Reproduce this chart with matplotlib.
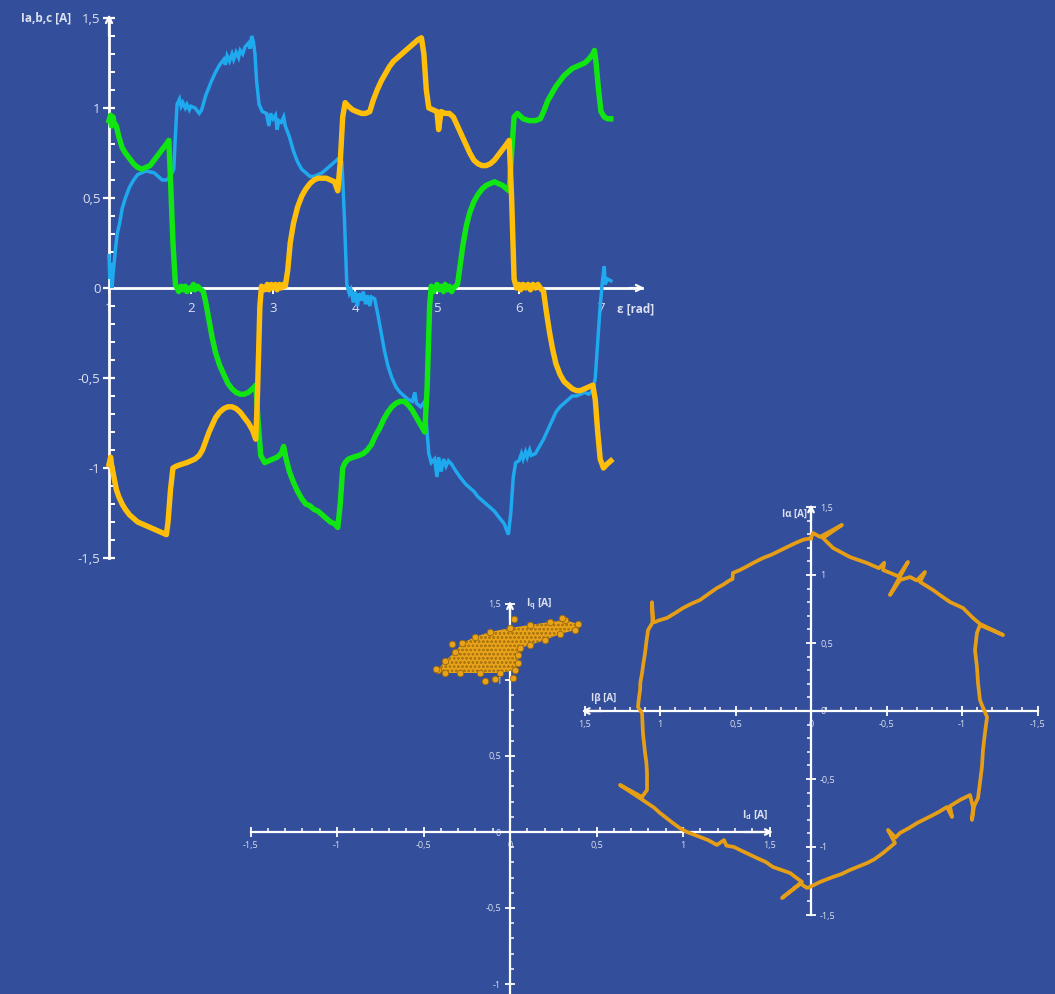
import matplotlib
matplotlib.use('Agg')
import matplotlib.pyplot as plt
from matplotlib.ticker import FixedLocator, MultipleLocator
from matplotlib.patches import Polygon

# ---------------------------------------------------------------- data
# phase currents vs electrical angle
eps_a = [1.00, 1.01, 1.02, 1.037, 1.05, 1.08, 1.10, 1.13, 1.16, 1.20, 1.25, 1.30, 1.35, 1.40, 1.45,
         1.50, 1.55, 1.60, 1.65, 1.70, 1.75, 1.79, 1.81, 1.83, 1.86, 1.88, 1.90, 1.93, 1.95, 1.98,
         2.00, 2.05, 2.10, 2.13, 2.18, 2.25, 2.30, 2.35, 2.40, 2.42, 2.44, 2.47, 2.50, 2.52,
         2.55, 2.58, 2.60, 2.63, 2.66, 2.70, 2.72, 2.74, 2.76, 2.78, 2.80, 2.83, 2.87, 2.92,
         2.95, 2.97, 3.00, 3.03, 3.05, 3.07, 3.10, 3.13, 3.15, 3.20, 3.25, 3.30, 3.35,
         3.40, 3.45, 3.50, 3.55, 3.60, 3.65, 3.70, 3.75, 3.80, 3.84, 3.87, 3.90, 3.93, 3.95,
         3.98, 4.00, 4.03, 4.05, 4.08, 4.10, 4.13, 4.15, 4.18, 4.20, 4.24, 4.28, 4.32, 4.36,
         4.40, 4.45, 4.50, 4.55, 4.60, 4.65, 4.70, 4.73, 4.75, 4.80, 4.85, 4.88, 4.90, 4.93,
         4.97, 5.00, 5.02, 5.05, 5.08, 5.11, 5.14, 5.18, 5.22, 5.28, 5.35, 5.40, 5.45, 5.50,
         5.55, 5.60, 5.65, 5.70, 5.75, 5.82, 5.87, 5.90, 5.93, 5.96, 6.00, 6.03, 6.05, 6.08,
         6.10, 6.13, 6.15, 6.20, 6.25, 6.30, 6.35, 6.40, 6.45, 6.50, 6.55, 6.60, 6.65, 6.70,
         6.75, 6.80, 6.85, 6.90, 6.93, 6.96, 6.99, 7.02, 7.04, 7.05, 7.08, 7.12]
i_a = [0.18, 0.05, 0.14, 0.00, 0.08, 0.22, 0.30, 0.36, 0.44, 0.50, 0.56, 0.60, 0.63, 0.64, 0.65,
       0.645, 0.64, 0.62, 0.60, 0.60, 0.62, 0.66, 0.85, 1.02, 1.05, 1.01, 1.03, 1.00, 1.02, 0.99,
       1.01, 1.00, 0.97, 0.99, 1.07, 1.15, 1.20, 1.24, 1.27, 1.24, 1.29, 1.26, 1.30, 1.27,
       1.31, 1.28, 1.32, 1.30, 1.34, 1.36, 1.33, 1.40, 1.37, 1.30, 1.15, 1.02, 0.98, 0.97,
       0.90, 0.97, 0.94, 0.96, 0.88, 0.93, 0.92, 0.95, 0.90, 0.84, 0.76, 0.70, 0.66,
       0.64, 0.62, 0.62, 0.63, 0.64, 0.66, 0.68, 0.70, 0.72, 0.70, 0.40, 0.02, -0.03, -0.01,
       -0.08, -0.02, -0.10, -0.03, -0.07, -0.02, -0.09, -0.04, -0.10, -0.05, -0.06, -0.15, -0.25, -0.35,
       -0.43, -0.50, -0.55, -0.58, -0.60, -0.62, -0.63, -0.58, -0.64, -0.66, -0.63, -0.80, -0.92, -0.97,
       -0.95, -1.05, -0.94, -1.02, -0.95, -0.99, -0.96, -0.98, -1.01, -1.05, -1.09, -1.11, -1.13, -1.16,
       -1.18, -1.20, -1.22, -1.24, -1.27, -1.31, -1.37, -1.25, -1.05, -0.97, -0.96, -0.92, -0.95, -0.91,
       -0.94, -0.90, -0.93, -0.92, -0.88, -0.84, -0.79, -0.74, -0.69, -0.66, -0.64, -0.62, -0.60, -0.60,
       -0.59, -0.58, -0.59, -0.57, -0.50, -0.30, -0.10, 0.05, 0.12, 0.02, 0.05, 0.04]

eps_b = [1.00, 1.02, 1.03, 1.05, 1.06, 1.09, 1.12, 1.16, 1.20, 1.25, 1.30, 1.35, 1.40, 1.45,
         1.50, 1.55, 1.60, 1.65, 1.70, 1.73, 1.75, 1.78, 1.81, 1.85, 1.88, 1.90, 1.93, 1.95,
         1.98, 2.00, 2.03, 2.05, 2.08, 2.10, 2.15, 2.18, 2.22, 2.26, 2.30, 2.35, 2.40, 2.45,
         2.50, 2.55, 2.60, 2.65, 2.70, 2.75, 2.79, 2.82, 2.85, 2.90, 2.95, 3.00, 3.05, 3.10,
         3.13, 3.16, 3.20, 3.25, 3.30, 3.35, 3.40, 3.45, 3.50, 3.55, 3.60, 3.65, 3.70, 3.75,
         3.79, 3.82, 3.85, 3.88, 3.92, 3.98, 4.05, 4.10, 4.15, 4.20, 4.25, 4.30, 4.35, 4.40,
         4.45, 4.50, 4.55, 4.60, 4.65, 4.70, 4.75, 4.80, 4.85, 4.88, 4.91, 4.93, 4.96, 5.00,
         5.03, 5.05, 5.08, 5.10, 5.13, 5.15, 5.18, 5.20, 5.25, 5.28, 5.32, 5.36, 5.40, 5.45,
         5.50, 5.55, 5.60, 5.65, 5.70, 5.75, 5.80, 5.85, 5.88, 5.91, 5.94, 5.98, 6.05, 6.12,
         6.20, 6.26, 6.30, 6.35, 6.40, 6.45, 6.50, 6.55, 6.60, 6.65, 6.70, 6.75, 6.80, 6.85,
         6.90, 6.92, 6.94, 6.97, 7.00, 7.04, 7.08, 7.12]
i_b = [0.93, 0.96, 0.90, 0.95, 0.92, 0.90, 0.84, 0.78, 0.75, 0.72, 0.69, 0.67, 0.66, 0.67,
       0.68, 0.71, 0.74, 0.77, 0.80, 0.82, 0.60, 0.25, 0.02, -0.02, 0.01, -0.01, 0.01, -0.02,
       0.00, -0.01, 0.02, -0.01, 0.01, 0.00, -0.02, -0.08, -0.18, -0.28, -0.36, -0.43, -0.48, -0.53,
       -0.56, -0.58, -0.59, -0.59, -0.58, -0.56, -0.54, -0.75, -0.93, -0.97, -0.96, -0.95, -0.94, -0.92,
       -0.88, -0.95, -1.02, -1.08, -1.13, -1.17, -1.20, -1.21, -1.23, -1.24, -1.26, -1.28, -1.30, -1.31,
       -1.33, -1.20, -1.00, -0.97, -0.95, -0.94, -0.93, -0.92, -0.90, -0.87, -0.82, -0.78, -0.73, -0.69,
       -0.66, -0.64, -0.63, -0.63, -0.65, -0.68, -0.72, -0.76, -0.80, -0.55, -0.10, 0.01, -0.02, 0.02,
       -0.01, 0.01, -0.02, 0.02, -0.01, 0.01, -0.02, 0.00, 0.02, 0.12, 0.25, 0.35, 0.42, 0.48,
       0.52, 0.55, 0.57, 0.58, 0.59, 0.58, 0.57, 0.55, 0.54, 0.75, 0.95, 0.97, 0.94, 0.93,
       0.93, 0.94, 0.98, 1.04, 1.08, 1.12, 1.15, 1.18, 1.20, 1.22, 1.23, 1.24, 1.25, 1.27,
       1.30, 1.32, 1.25, 1.10, 0.98, 0.95, 0.94, 0.94]

eps_c = [1.00, 1.02, 1.03, 1.06, 1.09, 1.12, 1.16, 1.20, 1.25, 1.30, 1.35, 1.40, 1.45, 1.50, 1.55,
         1.60, 1.65, 1.70, 1.72, 1.75, 1.78, 1.82, 1.88, 1.95, 2.00, 2.05, 2.10, 2.14, 2.18,
         2.22, 2.26, 2.30, 2.35, 2.40, 2.45, 2.50, 2.55, 2.60, 2.65, 2.70, 2.75, 2.79, 2.81,
         2.84, 2.86, 2.90, 2.93, 2.95, 2.98, 3.00, 3.03, 3.05, 3.08, 3.10, 3.13, 3.15, 3.18, 3.21,
         3.25, 3.30, 3.35, 3.40, 3.45, 3.50, 3.55, 3.60, 3.65, 3.70, 3.75, 3.79, 3.82, 3.85,
         3.88, 3.92, 3.97, 4.02, 4.08, 4.13, 4.18, 4.22, 4.27, 4.32, 4.37, 4.42, 4.47, 4.52,
         4.57, 4.62, 4.67, 4.72, 4.77, 4.81, 4.84, 4.87, 4.90, 4.95, 5.00, 5.02, 5.05, 5.10,
         5.15, 5.20, 5.25, 5.30, 5.35, 5.40, 5.45, 5.50, 5.55, 5.60, 5.65, 5.70, 5.75, 5.80,
         5.85, 5.88, 5.91, 5.94, 5.97, 6.00, 6.02, 6.05, 6.08, 6.11, 6.14, 6.17, 6.20, 6.23,
         6.26, 6.30, 6.33, 6.37, 6.41, 6.45, 6.50, 6.55, 6.60, 6.65, 6.70, 6.75, 6.80, 6.85,
         6.90, 6.93, 6.96, 6.99, 7.03, 7.07, 7.12]
i_c = [-0.98, -0.94, -0.98, -1.05, -1.12, -1.16, -1.20, -1.23, -1.26, -1.28, -1.30, -1.31, -1.32, -1.33, -1.34,
       -1.35, -1.36, -1.37, -1.30, -1.12, -1.00, -0.99, -0.98, -0.97, -0.96, -0.95, -0.93, -0.90, -0.85,
       -0.80, -0.76, -0.72, -0.69, -0.67, -0.66, -0.66, -0.67, -0.69, -0.72, -0.75, -0.79, -0.84, -0.60,
       -0.10, 0.01, -0.01, 0.02, -0.01, 0.02, 0.00, 0.02, -0.01, 0.02, 0.00, 0.02, 0.01, 0.10, 0.25,
       0.36, 0.45, 0.51, 0.55, 0.58, 0.60, 0.61, 0.61, 0.61, 0.60, 0.59, 0.54, 0.70, 0.95,
       1.03, 1.01, 0.99, 0.98, 0.97, 0.97, 0.98, 1.04, 1.10, 1.15, 1.19, 1.23, 1.26, 1.28,
       1.30, 1.32, 1.34, 1.36, 1.38, 1.39, 1.30, 1.10, 1.00, 0.99, 0.98, 0.88, 0.98, 0.97,
       0.97, 0.95, 0.90, 0.85, 0.80, 0.75, 0.71, 0.69, 0.68, 0.68, 0.69, 0.71, 0.74, 0.77,
       0.80, 0.82, 0.50, 0.05, 0.00, 0.02, -0.01, 0.02, 0.00, 0.02, -0.01, 0.02, 0.00, 0.02,
       0.00, -0.02, -0.12, -0.24, -0.34, -0.42, -0.48, -0.52, -0.54, -0.56, -0.57, -0.57, -0.56, -0.55,
       -0.54, -0.62, -0.80, -0.95, -1.00, -0.98, -0.96]

# rotor-frame current cloud (outline and stray samples)
cloud_id = [-0.416, -0.376, -0.318, -0.277, -0.202, -0.116, 0.000, 0.116, 0.231, 0.318, 0.393,
            0.376, 0.289, 0.202, 0.116, 0.058, 0.046, 0.046, 0.029, -0.058, -0.173, -0.289, -0.376]
cloud_iq = [1.066, 1.125, 1.184, 1.243, 1.283, 1.316, 1.342, 1.362, 1.382, 1.395, 1.368,
            1.329, 1.303, 1.263, 1.230, 1.211, 1.164, 1.112, 1.066, 1.046, 1.046, 1.046, 1.046]
stray_id = [-0.335, -0.145, -0.087, 0.017, 0.023, -0.43, 0.30]
stray_iq = [1.237, 0.993, 1.007, 1.013, 1.400, 1.07, 1.41]

# stator-frame current trajectory
i_beta = [0.000, 0.050, 0.093, 0.150, 0.205, 0.260, 0.318, 0.384, 0.430, 0.470, 0.517, 0.520,
          0.540, 0.580, 0.623, 0.680, 0.735, 0.790, 0.848, 0.900, 0.954, 1.010, 1.033, 1.050,
          1.053, 1.045, 1.060, 1.079, 1.090, 1.099, 1.110, 1.119, 1.130, 1.132, 1.140, 1.146,
          1.119, 1.113, 1.099, 1.090, 1.086, 1.086, 1.119, 1.265, 1.120, 1.086, 1.040, 1.000,
          0.914, 0.870, 0.821, 0.735, 0.680, 0.623, 0.576, 0.560, 0.510, 0.470, 0.358, 0.300,
          0.252, 0.139, 0.060, 0.192, 0.070, 0.026, 0.007, -0.060, -0.146, -0.200, -0.258, -0.371,
          -0.420, -0.477, -0.556, -0.510, -0.560, -0.589, -0.650, -0.702, -0.808, -0.850, -0.900, -0.934,
          -0.920, -0.987, -1.053, -1.073, -1.066, -1.080, -1.106, -1.119, -1.132, -1.139, -1.152, -1.166,
          -1.132, -1.119, -1.106, -1.099, -1.086, -1.099, -1.119, -1.272, -1.120, -1.073, -1.007, -0.921,
          -0.870, -0.808, -0.722, -0.755, -0.700, -0.656, -0.589, -0.523, -0.642, -0.580, -0.477, -0.485,
          -0.450, -0.371, -0.258, -0.146, -0.079, -0.205, -0.060, -0.013, 0.000]
i_alpha = [1.270, 1.260, 1.240, 1.210, 1.180, 1.150, 1.125, 1.088, 1.060, 1.037, 1.015, 0.970,
           0.960, 0.930, 0.904, 0.860, 0.816, 0.790, 0.757, 0.720, 0.684, 0.665, 0.654, 0.660,
           0.800, 0.660, 0.630, 0.596, 0.510, 0.426, 0.350, 0.279, 0.210, 0.154, 0.090, 0.029,
           -0.015, -0.162, -0.309, -0.380, -0.456, -0.581, -0.632, -0.544, -0.650, -0.676, -0.710, -0.750,
           -0.824, -0.860, -0.890, -0.926, -0.950, -0.985, -0.949, -0.990, -1.000, -1.022, -1.081, -1.110,
           -1.147, -1.191, -1.257, -1.375, -1.270, -1.301, -1.294, -1.257, -1.220, -1.200, -1.169, -1.118,
           -1.090, -1.044, -0.971, -0.875, -0.930, -0.897, -0.860, -0.824, -0.765, -0.740, -0.706, -0.779,
           -0.700, -0.654, -0.618, -0.706, -0.801, -0.700, -0.640, -0.529, -0.412, -0.287, -0.162, -0.044,
           0.044, 0.081, 0.206, 0.324, 0.449, 0.574, 0.632, 0.559, 0.640, 0.684, 0.757, 0.801,
           0.840, 0.890, 0.949, 1.022, 0.960, 0.985, 0.963, 0.853, 1.096, 0.990, 1.037, 1.090,
           1.050, 1.088, 1.132, 1.199, 1.272, 1.368, 1.280, 1.309, 1.270]

sym_ticks = [-1.5, -1.0, -0.5, 0.0, 0.5, 1.0, 1.5]
sym_labels = ['-1,5', '-1', '-0,5', '0', '0,5', '1', '1,5']
eps_ticks = [1, 2, 3, 4, 5, 6, 7]
eps_labels = ['1', '2', '3', '4', '5', '6', '7']

# ---------------------------------------------------------------- style
W, H = 1055, 994
BG = '#334E9A'
AXC = 'white'
TXT = '#DCE1EF'
BLUE = '#1FA9EE'
GREEN = '#12E612'
YELLOW = '#FFBE0A'
ORANGE = '#E59E16'
FONT = ['Open Sans', 'DejaVu Sans']

plt.rcParams['font.family'] = FONT
plt.rcParams['hatch.linewidth'] = 0.6

fig = plt.figure(figsize=(W / 100, H / 100), dpi=100, facecolor=BG)


def placed_axes(x0, y0, sx, sy, xlim, ylim):
    """Axes whose data origin sits at pixel (x0, y0) with sx, sy pixels per unit."""
    xa = x0 + sx * xlim[0]
    xb = x0 + sx * xlim[1]
    ya = y0 - sy * ylim[1]
    yb = y0 - sy * ylim[0]
    ax = fig.add_axes([xa / W, 1 - yb / H, (xb - xa) / W, (yb - ya) / H])
    ax.set_xlim(*xlim)
    ax.set_ylim(*ylim)
    ax.patch.set_alpha(0)
    return ax


def arrow(ax, tip, tail, scale=11):
    ax.annotate('', xy=tip, xytext=tail,
                arrowprops=dict(arrowstyle='->', color=AXC, lw=1.6,
                                mutation_scale=scale, shrinkA=0, shrinkB=0))


# ---------------------------------------------------------------- phase currents
ax1 = placed_axes(109 - 82 * 1.0, 288, 82, 180, (0.9, 7.62), (-1.56, 1.56))
for s in ('top', 'right'):
    ax1.spines[s].set_visible(False)
ax1.spines['left'].set_position(('data', 1.0))
ax1.spines['bottom'].set_position(('data', 0.0))
ax1.spines['left'].set_bounds(-1.5, 1.5)
ax1.spines['bottom'].set_bounds(1.0, 7.5)
for s in ('left', 'bottom'):
    ax1.spines[s].set_color(AXC)
    ax1.spines[s].set_linewidth(2.0)

ax1.plot(eps_a, i_a, color=BLUE, lw=2.5, solid_joinstyle='miter', zorder=3)
ax1.plot(eps_b, i_b, color=GREEN, lw=3.9, solid_joinstyle='round', zorder=3)
ax1.plot(eps_c, i_c, color=YELLOW, lw=3.9, solid_joinstyle='round', zorder=3)

ax1.yaxis.set_major_locator(FixedLocator(sym_ticks))
ax1.set_yticklabels(sym_labels)
ax1.yaxis.set_minor_locator(MultipleLocator(0.1))
ax1.tick_params(axis='y', which='major', direction='inout', length=8, width=1.6,
                color=AXC, labelcolor=TXT, labelsize=9.5, pad=2)
ax1.tick_params(axis='y', which='minor', direction='in', length=4, width=1.4, color=AXC)
ax1.xaxis.set_major_locator(FixedLocator(eps_ticks))
ax1.set_xticklabels(eps_labels)
ax1.tick_params(axis='x', which='major', direction='out', length=4, width=1.4,
                color=AXC, labelcolor=TXT, labelsize=9.5, pad=6)
arrow(ax1, (1.0, 1.52), (1.0, 1.40))
arrow(ax1, (7.53, 0.0), (7.35, 0.0))
fig.text(46 / W, 1 - 18 / H, 'Ia,b,c [A]', color=TXT, fontsize=8.5, fontweight='bold',
         ha='center', va='center')
fig.text(636 / W, 1 - 309 / H, 'ε [rad]', color=TXT, fontsize=8.5, fontweight='bold',
         ha='center', va='center')

# ---------------------------------------------------------------- d-q plane
ax2 = placed_axes(510, 832, 173, 152, (-1.56, 1.56), (-1.066, 1.56))
for s in ('top', 'right'):
    ax2.spines[s].set_visible(False)
ax2.spines['left'].set_position(('data', 0.0))
ax2.spines['bottom'].set_position(('data', 0.0))
ax2.spines['left'].set_bounds(-1.1, 1.5)
ax2.spines['bottom'].set_bounds(-1.5, 1.5)
for s in ('left', 'bottom'):
    ax2.spines[s].set_color(AXC)
    ax2.spines[s].set_linewidth(1.6)
ax2.xaxis.set_major_locator(FixedLocator(sym_ticks))
ax2.set_xticklabels(sym_labels)
ax2.yaxis.set_major_locator(FixedLocator(sym_ticks[1:]))
ax2.set_yticklabels(sym_labels[1:])
ax2.xaxis.set_minor_locator(MultipleLocator(0.1))
ax2.yaxis.set_minor_locator(MultipleLocator(0.1))
ax2.tick_params(which='major', direction='inout', length=7, width=1.3,
                color=AXC, labelcolor=TXT, labelsize=6.5, pad=3)
ax2.tick_params(which='minor', direction='in', length=3, width=1.1, color=AXC)

cloud = Polygon(list(zip(cloud_id, cloud_iq)), closed=True, facecolor='#E8A31A',
                edgecolor='#B07810', hatch='oooo', lw=0, zorder=3)
ax2.add_patch(cloud)
ax2.scatter(cloud_id + stray_id, cloud_iq + stray_iq, s=22, color='#E8A31A',
            edgecolors='#9A680C', linewidths=0.6, zorder=4)
arrow(ax2, (0.0, 1.52), (0.0, 1.40), scale=10)
arrow(ax2, (1.52, 0.0), (1.35, 0.0), scale=10)
fig.text(526 / W, 1 - 604 / H, r'I$_\mathregular{q}$ [A]', color=TXT, fontsize=7.5,
         fontweight='bold', ha='left', va='center')
fig.text(742 / W, 1 - 815 / H, r'I$_\mathregular{d}$ [A]', color=TXT, fontsize=7.5,
         fontweight='bold', ha='left', va='center')

# ---------------------------------------------------------------- alpha-beta plane
ax3 = placed_axes(811, 711, -151, 136, (1.56, -1.56), (-1.56, 1.56))
for s in ('top', 'left'):
    ax3.spines[s].set_visible(False)
ax3.spines['right'].set_position(('data', 0.0))
ax3.spines['bottom'].set_position(('data', 0.0))
ax3.spines['right'].set_bounds(-1.5, 1.5)
ax3.spines['bottom'].set_bounds(-1.5, 1.5)
for s in ('right', 'bottom'):
    ax3.spines[s].set_color(AXC)
    ax3.spines[s].set_linewidth(1.6)
ax3.yaxis.set_ticks_position('right')
ax3.xaxis.set_major_locator(FixedLocator(sym_ticks))
ax3.set_xticklabels(sym_labels)
ax3.yaxis.set_major_locator(FixedLocator(sym_ticks))
ax3.set_yticklabels(sym_labels)
ax3.xaxis.set_minor_locator(MultipleLocator(0.1))
ax3.yaxis.set_minor_locator(MultipleLocator(0.1))
ax3.tick_params(which='major', direction='inout', length=7, width=1.3,
                color=AXC, labelcolor=TXT, labelsize=6.5, pad=3)
ax3.tick_params(which='minor', direction='in', length=3, width=1.1, color=AXC)
ax3.plot(i_beta, i_alpha, color=ORANGE, lw=2.7, solid_joinstyle='round', zorder=3)
arrow(ax3, (0.0, 1.52), (0.0, 1.40), scale=10)
arrow(ax3, (1.52, 0.0), (1.38, 0.0), scale=10)
fig.text(782 / W, 1 - 514 / H, 'Iα [A]', color=TXT, fontsize=7, fontweight='bold',
         ha='left', va='center')
fig.text(591 / W, 1 - 698 / H, 'Iβ [A]', color=TXT, fontsize=7, fontweight='bold',
         ha='left', va='center')

fig.savefig('out.png', dpi=100, facecolor=BG)
